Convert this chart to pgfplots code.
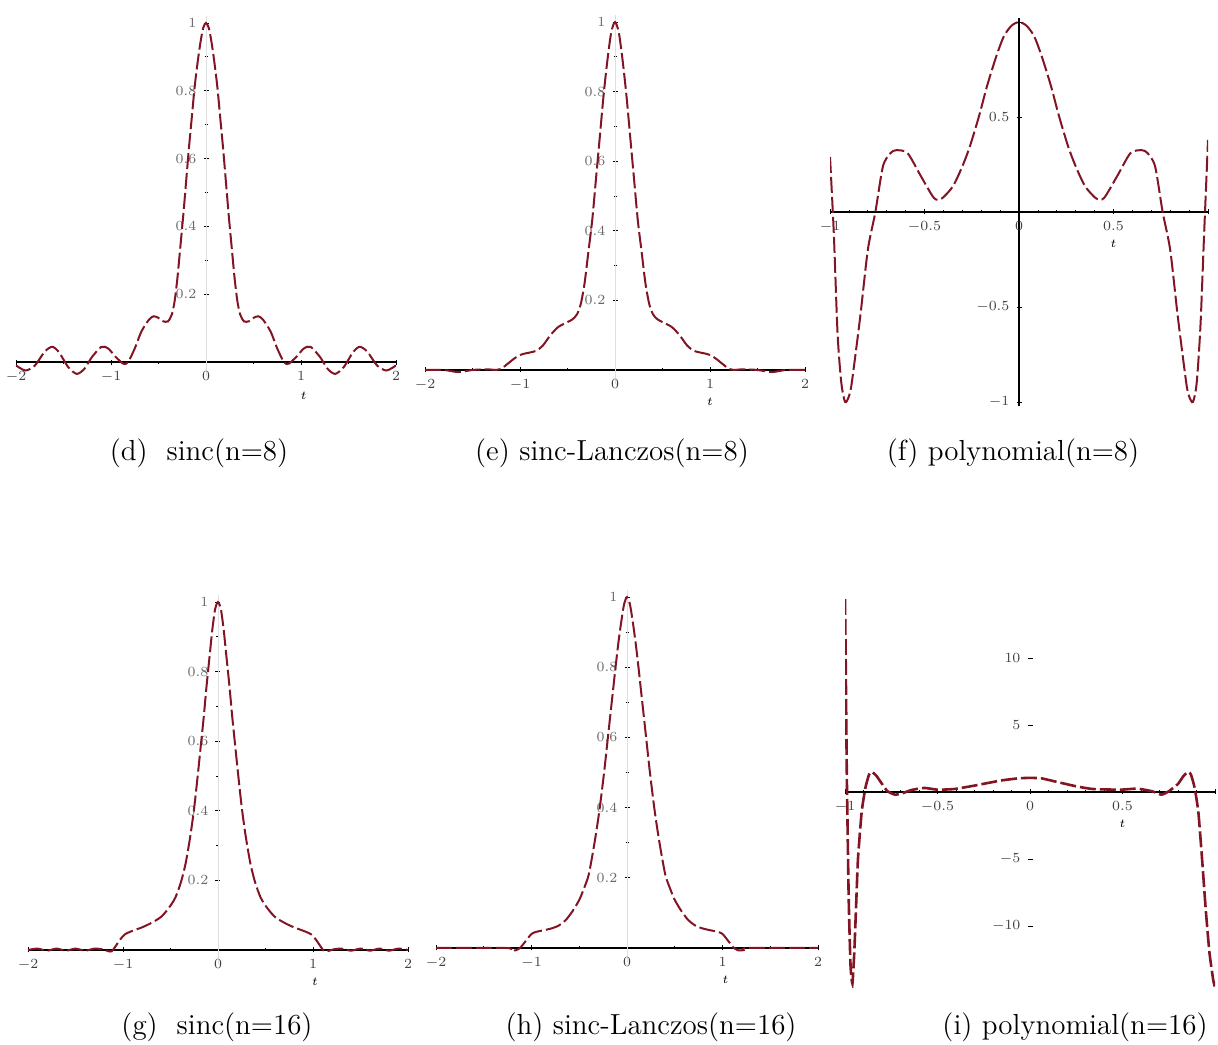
\documentclass[border=0pt]{standalone}
\usepackage{pgfplots}
\pgfplotsset{compat=1.18}
\definecolor{mred}{RGB}{130,20,35}
\pgfplotsset{
  maple/.style={
    scale only axis, axis lines=middle,
    axis line style={-}, every inner x axis line/.append style={-}, every inner y axis line/.append style={-},
    x axis line style={black, line width=0.7pt},
    hide obscured x ticks=false, hide obscured y ticks=false,
    tick align=center, major tick length=2.5pt, minor tick length=1.5pt,
    tick style={black, line width=0.4pt},
    ticklabel style={font=\fontsize{7}{8}\selectfont, text=black!75},
    anchor=south west, clip=true, clip mode=individual,
  },
  sincax/.style={maple,
    xmin=-2, xmax=2, ymin=-0.04, ymax=1.02,
    xtick={-2,-1,0,1,2}, minor x tick num=1,
    ytick={0.2,0.4,0.6,0.8,1}, minor y tick num=1,
    y axis line style={gray!25, line width=0.4pt},
    yticklabel style={text=black!60},
  },
  curve/.style={line width=1pt, color=mred, dash pattern=on 8pt off 2pt, no marks, smooth, tension=0.45},
}
\begin{document}
\begin{tikzpicture}
\path[use as bounding box] (0,0) rectangle (609pt,522pt);
% (d) sinc n=8
\begin{axis}[sincax, at={(8pt,334.2pt)}, width=190pt, height=179.7pt]
\addplot[curve] coordinates {(-2,-0.01)(-1.9,-0.025)(-1.8,-0.01)(-1.7,0.03)(-1.62,0.045)(-1.55,0.03)(-1.45,-0.015)(-1.36,-0.035)(-1.28,-0.02)(-1.2,0.015)(-1.1,0.045)(-1.03,0.04)(-0.95,0.015)(-0.87,-0.005)(-0.82,0.0)(-0.75,0.04)(-0.68,0.09)(-0.6,0.125)(-0.55,0.135)(-0.5,0.13)(-0.45,0.12)(-0.4,0.12)(-0.36,0.14)(-0.33,0.18)(-0.3,0.25)(-0.27,0.34)(-0.24,0.43)(-0.21,0.53)(-0.18,0.63)(-0.15,0.72)(-0.12,0.81)(-0.09,0.88)(-0.06,0.94)(-0.03,0.985)(0,1.0)
(0.03,0.985)(0.06,0.94)(0.09,0.88)(0.12,0.81)(0.15,0.72)(0.18,0.63)(0.21,0.53)(0.24,0.43)(0.27,0.34)(0.3,0.25)(0.33,0.18)(0.36,0.14)(0.4,0.12)(0.45,0.12)(0.5,0.13)(0.55,0.135)(0.6,0.125)(0.68,0.09)(0.75,0.04)(0.82,0.0)(0.87,-0.005)(0.95,0.015)(1.03,0.04)(1.1,0.045)(1.2,0.015)(1.28,-0.02)(1.36,-0.035)(1.45,-0.015)(1.55,0.03)(1.62,0.045)(1.7,0.03)(1.8,-0.01)(1.9,-0.025)(2,-0.01)};
\node at (axis cs:1.03,0) [yshift=-17pt] {\fontsize{6}{7}\selectfont$t$};
\end{axis}
% (e) sinc-Lanczos n=8
\begin{axis}[sincax, at={(212.5pt,330.05pt)}, width=190pt, height=184.4pt]
\addplot[curve] coordinates {(-2,0)(-1.8,0)(-1.65,-0.006)(-1.5,0)(-1.35,0.002)(-1.25,0)(-1.2,0.003)(-1.12,0.02)(-1.05,0.035)(-0.98,0.045)(-0.9,0.05)(-0.83,0.055)(-0.76,0.07)(-0.68,0.1)(-0.6,0.123)(-0.52,0.135)(-0.45,0.145)(-0.4,0.16)(-0.36,0.19)(-0.32,0.25)(-0.28,0.34)(-0.24,0.43)(-0.2,0.55)(-0.16,0.67)(-0.12,0.79)(-0.08,0.89)(-0.04,0.97)(0,1.0)
(0.04,0.97)(0.08,0.89)(0.12,0.79)(0.16,0.67)(0.2,0.55)(0.24,0.43)(0.28,0.34)(0.32,0.25)(0.36,0.19)(0.4,0.16)(0.45,0.145)(0.52,0.135)(0.6,0.123)(0.68,0.1)(0.76,0.07)(0.83,0.055)(0.9,0.05)(0.98,0.045)(1.05,0.035)(1.12,0.02)(1.2,0.003)(1.25,0)(1.35,0.002)(1.5,0)(1.65,-0.006)(1.8,0)(2,0)};
\node at (axis cs:1,0) [yshift=-16pt] {\fontsize{6}{7}\selectfont$t$};
\end{axis}
% (f) polynomial n=8
\begin{axis}[maple, at={(415pt,319.1pt)}, width=189pt, height=193.8pt,
  xmin=-1, xmax=1, ymin=-1.02, ymax=1.02,
  xtick={-1,-0.5,0,0.5,1}, xticklabels={$-1$,$-0.5$,$0$,$0.5$,{}}, minor x tick num=4,
  ytick={-1,-0.5,0.5,1}, yticklabels={$-1$,$-0.5$,$0.5$,{}}, minor y tick num=4,
  y axis line style={black, line width=0.7pt}]
\addplot[curve] coordinates {(-1,0.29)(-0.98,-0.11)(-0.96,-0.64)(-0.94,-0.9)(-0.92,-1.0)(-0.9,-0.97)(-0.885,-0.9)(-0.84,-0.55)(-0.8,-0.2)(-0.76,0)(-0.72,0.24)(-0.68,0.31)(-0.65,0.325)(-0.59,0.31)(-0.52,0.19)(-0.45,0.074)(-0.41,0.07)(-0.35,0.135)(-0.3,0.24)(-0.26,0.345)(-0.21,0.51)(-0.17,0.66)(-0.12,0.82)(-0.08,0.925)(-0.04,0.98)(0,1.0)
(0.04,0.98)(0.08,0.925)(0.12,0.82)(0.17,0.66)(0.21,0.51)(0.26,0.345)(0.3,0.24)(0.35,0.135)(0.41,0.07)(0.45,0.074)(0.52,0.19)(0.59,0.31)(0.65,0.325)(0.68,0.31)(0.72,0.24)(0.76,0)(0.8,-0.2)(0.84,-0.55)(0.885,-0.9)(0.9,-0.97)(0.92,-1.0)(0.94,-0.9)(0.96,-0.6)(0.98,-0.1)(1,0.38)};
\node at (axis cs:0.5,0) [yshift=-16pt] {\fontsize{6}{7}\selectfont$t$};
\end{axis}
% (g) sinc n=16
\begin{axis}[sincax, at={(14pt,40.05pt)}, width=190pt, height=184.4pt]
\addplot[curve] coordinates {(-2,0)(-1.9,0.004)(-1.8,-0.002)(-1.7,0.004)(-1.6,-0.002)(-1.5,0.004)(-1.4,-0.002)(-1.3,0.004)(-1.22,0.002)(-1.16,-0.003)(-1.12,-0.004)(-1.08,0.01)(-1.03,0.03)(-0.98,0.045)(-0.9,0.055)(-0.8,0.065)(-0.7,0.078)(-0.6,0.095)(-0.52,0.12)(-0.45,0.15)(-0.39,0.195)(-0.34,0.25)(-0.29,0.33)(-0.25,0.41)(-0.21,0.51)(-0.18,0.59)(-0.15,0.67)(-0.12,0.76)(-0.09,0.84)(-0.06,0.92)(-0.03,0.98)(0,1.0)
(0.03,0.98)(0.06,0.92)(0.09,0.84)(0.12,0.76)(0.15,0.67)(0.18,0.59)(0.21,0.51)(0.25,0.41)(0.29,0.33)(0.34,0.25)(0.39,0.195)(0.45,0.15)(0.52,0.12)(0.6,0.095)(0.7,0.078)(0.8,0.065)(0.9,0.055)(0.98,0.045)(1.03,0.03)(1.08,0.01)(1.12,-0.004)(1.16,-0.003)(1.22,0.002)(1.3,0.004)(1.4,-0.002)(1.5,0.004)(1.6,-0.002)(1.7,0.004)(1.8,-0.002)(1.9,0.004)(2,0)};
\node at (axis cs:1.02,0) [yshift=-16pt] {\fontsize{6}{7}\selectfont$t$};
\end{axis}
% (h) sinc-Lanczos n=16
\begin{axis}[sincax, at={(218pt,41pt)}, width=191pt, height=186pt]
\addplot[curve] coordinates {(-2,0)(-1.27,0)(-1.22,-0.006)(-1.17,-0.007)(-1.12,0)(-1.06,0.02)(-1.0,0.04)(-0.95,0.046)(-0.88,0.05)(-0.8,0.055)(-0.72,0.063)(-0.64,0.08)(-0.57,0.105)(-0.5,0.137)(-0.45,0.17)(-0.4,0.21)(-0.34,0.3)(-0.29,0.39)(-0.24,0.5)(-0.2,0.6)(-0.16,0.7)(-0.12,0.8)(-0.09,0.87)(-0.06,0.93)(-0.03,0.98)(0,1.0)
(0.03,0.98)(0.06,0.93)(0.09,0.87)(0.12,0.8)(0.16,0.7)(0.2,0.6)(0.24,0.5)(0.29,0.39)(0.34,0.3)(0.4,0.21)(0.45,0.17)(0.5,0.137)(0.57,0.105)(0.64,0.08)(0.72,0.063)(0.8,0.055)(0.88,0.05)(0.95,0.046)(1.0,0.04)(1.06,0.02)(1.12,0)(1.17,-0.007)(1.22,-0.006)(1.27,0)(2,0)};
\node at (axis cs:1.03,0) [yshift=-16pt] {\fontsize{6}{7}\selectfont$t$};
\end{axis}
% (i) polynomial n=16
\begin{axis}[maple, at={(422.5pt,28.2pt)}, width=185pt, height=194.3pt,
  xmin=-1, xmax=1, ymin=-14.6, ymax=14.4,
  xtick={-1,-0.5,0,0.5,1}, xticklabels={$-1$,$-0.5$,$0$,$0.5$,{}}, minor x tick num=4,
  ytick={-10,-5,5,10}, minor y tick num=4,
  y axis line style={draw=none}]
\addplot[curve, line width=1.3pt, tension=0.3] coordinates {(-1,14.4)(-0.995,8)(-0.99,1)(-0.98,-8)(-0.97,-13)(-0.96,-14.3)(-0.95,-12)(-0.94,-8.5)(-0.93,-5)(-0.91,-1.5)(-0.89,0.3)(-0.87,1.3)(-0.855,1.5)(-0.83,1.2)(-0.8,0.6)(-0.77,0.05)(-0.73,-0.2)(-0.69,-0.1)(-0.64,0.15)(-0.57,0.3)(-0.5,0.17)(-0.41,0.22)(-0.29,0.5)(-0.16,0.85)(-0.06,1.02)(0,1.05)
(0.06,1.02)(0.13,0.8)(0.25,0.42)(0.34,0.22)(0.49,0.17)(0.58,0.25)(0.66,0.05)(0.71,-0.2)(0.75,0.05)(0.8,0.6)(0.83,1.2)(0.855,1.5)(0.87,1.3)(0.89,0.3)(0.91,-1.5)(0.93,-5)(0.95,-8.8)(0.97,-12)(0.99,-14)(1,-14.6)};
\node at (axis cs:0.5,0) [yshift=-16pt] {\fontsize{6}{7}\selectfont$t$};
\end{axis}
% captions
\begin{scope}[every node/.style={font=\fontsize{14.5}{17}\selectfont, anchor=center}]
\node at (99.5pt,295.5pt) {(d)\ \ sinc(n=8)};
\node at (306pt,295.5pt) {(e) sinc-Lanczos(n=8)};
\node at (506.5pt,295.5pt) {(f) polynomial(n=8)};
\node at (108.5pt,8.5pt) {(g)\ \ sinc(n=16)};
\node at (325.5pt,8.5pt) {(h) sinc-Lanczos(n=16)};
\node at (537.5pt,8.5pt) {(i) polynomial(n=16)};
\end{scope}
\end{tikzpicture}
\end{document}
